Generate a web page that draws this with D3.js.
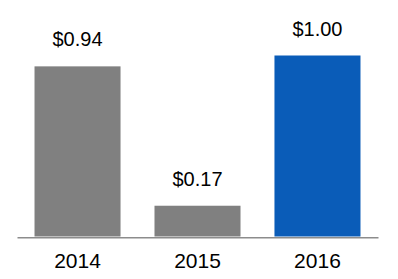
<!DOCTYPE html>
<html>
<head>
<meta charset="utf-8">
<script src="https://cdn.jsdelivr.net/npm/d3@7"></script>
<style>
  body { margin: 0; background: #fff; }
  text { font-family: "Liberation Sans", Arial, sans-serif; }
</style>
</head>
<body>
<div id="chart"></div>
<script>
// data
var years = ["2014", "2015", "2016"];
var values = [0.94, 0.17, 1.00];
var valueLabels = ["$0.94", "$0.17", "$1.00"];
var barColors = ["#808080", "#808080", "#0a5cb8"];

var svgWidth = 398;
var svgHeight = 279;

var svg = d3.select("#chart")
  .append("svg")
  .attr("width", svgWidth)
  .attr("height", svgHeight);

// scales
var xScale = d3.scaleBand()
  .domain(years)
  .range([17, 378])
  .paddingInner(0.283)
  .paddingOuter(0.146);

var yScale = d3.scaleLinear()
  .domain([0, 1])
  .range([236.5, 55.5]);

// bars
svg.selectAll("rect.bar")
  .data(values)
  .enter()
  .append("rect")
  .attr("class", "bar")
  .attr("x", (d, i) => xScale(years[i]))
  .attr("y", d => yScale(d))
  .attr("width", xScale.bandwidth())
  .attr("height", d => yScale(0) - yScale(d))
  .attr("fill", (d, i) => barColors[i]);

// value labels
svg.selectAll("text.val")
  .data(values)
  .enter()
  .append("text")
  .attr("class", "val")
  .attr("x", (d, i) => xScale(years[i]) + xScale.bandwidth() / 2)
  .attr("y", d => yScale(d) - 20)
  .attr("text-anchor", "middle")
  .attr("font-size", "20px")
  .attr("fill", "#000")
  .text((d, i) => valueLabels[i]);

// x axis
var bottomAxis = d3.axisBottom(xScale).tickSize(0).tickPadding(16);
var xAxis = svg.append("g")
  .attr("transform", `translate(0, ${yScale(0) + 0.8})`)
  .call(bottomAxis);

xAxis.select(".domain")
  .attr("stroke", "#8c8c8c")
  .attr("stroke-width", 1.6);

xAxis.selectAll("text")
  .attr("font-size", "21px")
  .attr("fill", "#000")
  .style("font-family", "'Liberation Sans', Arial, sans-serif");
</script>
</body>
</html>
